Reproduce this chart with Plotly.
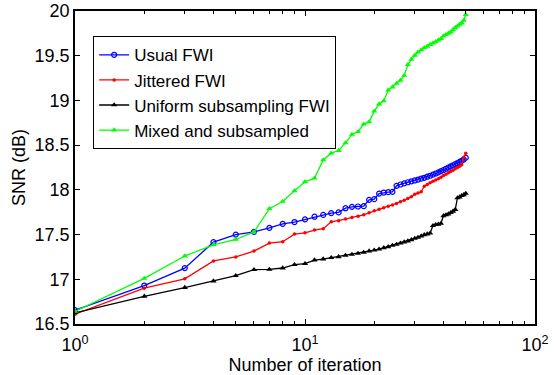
import plotly.graph_objects as go

iterations = list(range(1, 51))

usual_fwi = [16.655, 16.93, 17.125, 17.415, 17.50, 17.53, 17.575, 17.62, 17.64, 17.67,
             17.70, 17.72, 17.74, 17.748, 17.795, 17.81, 17.814, 17.818, 17.888, 17.896,
             17.958, 17.97, 17.974, 17.978, 18.045, 18.06, 18.072, 18.085, 18.095, 18.105,
             18.115, 18.125, 18.135, 18.147, 18.158, 18.17, 18.183, 18.196, 18.21, 18.222,
             18.236, 18.25, 18.262, 18.275, 18.288, 18.30, 18.312, 18.325, 18.34, 18.36]

jittered_fwi = [16.61, 16.90, 17.005, 17.205, 17.25, 17.315, 17.405, 17.42, 17.505, 17.52,
                17.55, 17.565, 17.642, 17.654, 17.673, 17.692, 17.706, 17.721, 17.743, 17.765,
                17.784, 17.80, 17.818, 17.832, 17.848, 17.866, 17.885, 17.904, 17.922, 17.95,
                17.965, 17.978, 18.04, 18.06, 18.08, 18.095, 18.11, 18.125, 18.14, 18.16,
                18.175, 18.19, 18.205, 18.22, 18.235, 18.25, 18.265, 18.28, 18.36, 18.41]

uniform_fwi = [16.625, 16.81, 16.907, 16.98, 17.04, 17.107, 17.11, 17.126, 17.163, 17.175,
               17.215, 17.226, 17.241, 17.252, 17.267, 17.278, 17.289, 17.30, 17.315, 17.326,
               17.337, 17.352, 17.363, 17.378, 17.39, 17.404, 17.416, 17.427, 17.441, 17.457,
               17.468, 17.483, 17.497, 17.505, 17.515, 17.60, 17.61, 17.615, 17.625, 17.71,
               17.72, 17.73, 17.745, 17.76, 17.78, 17.91, 17.92, 17.935, 17.945, 17.96]

mixed_fwi = [16.64, 17.01, 17.26, 17.385, 17.445, 17.53, 17.79, 17.87, 17.99, 18.09,
             18.13, 18.335, 18.41, 18.44, 18.525, 18.62, 18.65, 18.735, 18.76, 18.88,
             18.96, 18.995, 19.115, 19.15, 19.19, 19.225, 19.28, 19.40, 19.46, 19.505,
             19.54, 19.565, 19.59, 19.605, 19.625, 19.64, 19.655, 19.675, 19.69, 19.72,
             19.735, 19.75, 19.765, 19.79, 19.815, 19.83, 19.85, 19.865, 19.895, 19.96]

series_names = ["Usual FWI", "Jittered FWI", "Uniform subsampling FWI", "Mixed and subsampled"]
x_tick_vals = [1, 10, 100]
x_tick_text = ["10<sup>0</sup>", "10<sup>1</sup>", "10<sup>2</sup>"]
y_tick_vals = [16.5, 17, 17.5, 18, 18.5, 19, 19.5, 20]
y_tick_text = ["16.5", "17", "17.5", "18", "18.5", "19", "19.5", "20"]

FONT = "Liberation Sans, Arial, sans-serif"
FS = 18

fig = go.Figure()
styles = [
    dict(color="#0000ff", symbol="circle-open", size=5, mlw=1.2),
    dict(color="#ff0000", symbol="circle", size=3.5, mlw=0),
    dict(color="#000000", symbol="triangle-up", size=5.5, mlw=0),
    dict(color="#00ff00", symbol="triangle-up", size=5.5, mlw=0),
]
for name, ys, st in zip(series_names, [usual_fwi, jittered_fwi, uniform_fwi, mixed_fwi], styles):
    fig.add_trace(go.Scatter(
        x=iterations, y=ys, name=name, mode="lines+markers",
        line=dict(color=st["color"], width=1.3),
        marker=dict(symbol=st["symbol"], size=st["size"], color=st["color"],
                    line=dict(color=st["color"], width=st["mlw"])),
    ))

minor_vals = [v * d for d in (1, 10) for v in range(2, 10)]

fig.update_layout(
    width=554, height=375,
    margin=dict(l=75, r=19, t=11, b=51),
    paper_bgcolor="white", plot_bgcolor="white",
    font=dict(family=FONT, size=FS, color="black"),
    showlegend=True,
    legend=dict(
        x=0.039, y=0.92, xanchor="left", yanchor="top",
        bgcolor="white", bordercolor="black", borderwidth=1.2,
        font=dict(family=FONT, size=17, color="black"),
        itemwidth=30, tracegroupgap=0,
    ),
    xaxis=dict(
        type="log", range=[0, 2], automargin=False,
        tickmode="array", tickvals=x_tick_vals, ticktext=x_tick_text,
        ticks="inside", ticklen=5, tickcolor="black", tickwidth=1,
        showline=True, linecolor="black", linewidth=1.5, mirror="ticks",
        showgrid=False, zeroline=False, ticklabelstandoff=4,
        minor=dict(tickmode="array", tickvals=minor_vals, ticks="inside",
                   ticklen=3, tickcolor="black", showgrid=False),
        title=dict(text="Number of iteration", standoff=0,
                   font=dict(family=FONT, size=FS)),
        tickfont=dict(family=FONT, size=FS),
    ),
    yaxis=dict(
        range=[16.5, 20], automargin=False,
        tickmode="array", tickvals=y_tick_vals, ticktext=y_tick_text,
        ticks="inside", ticklen=5, tickcolor="black", tickwidth=1,
        showline=True, linecolor="black", linewidth=1.5, mirror="ticks",
        showgrid=False, zeroline=False,
        title=dict(text="SNR (dB)", standoff=4, font=dict(family=FONT, size=FS)),
        tickfont=dict(family=FONT, size=FS),
    ),
)

fig.write_html("out.html")
